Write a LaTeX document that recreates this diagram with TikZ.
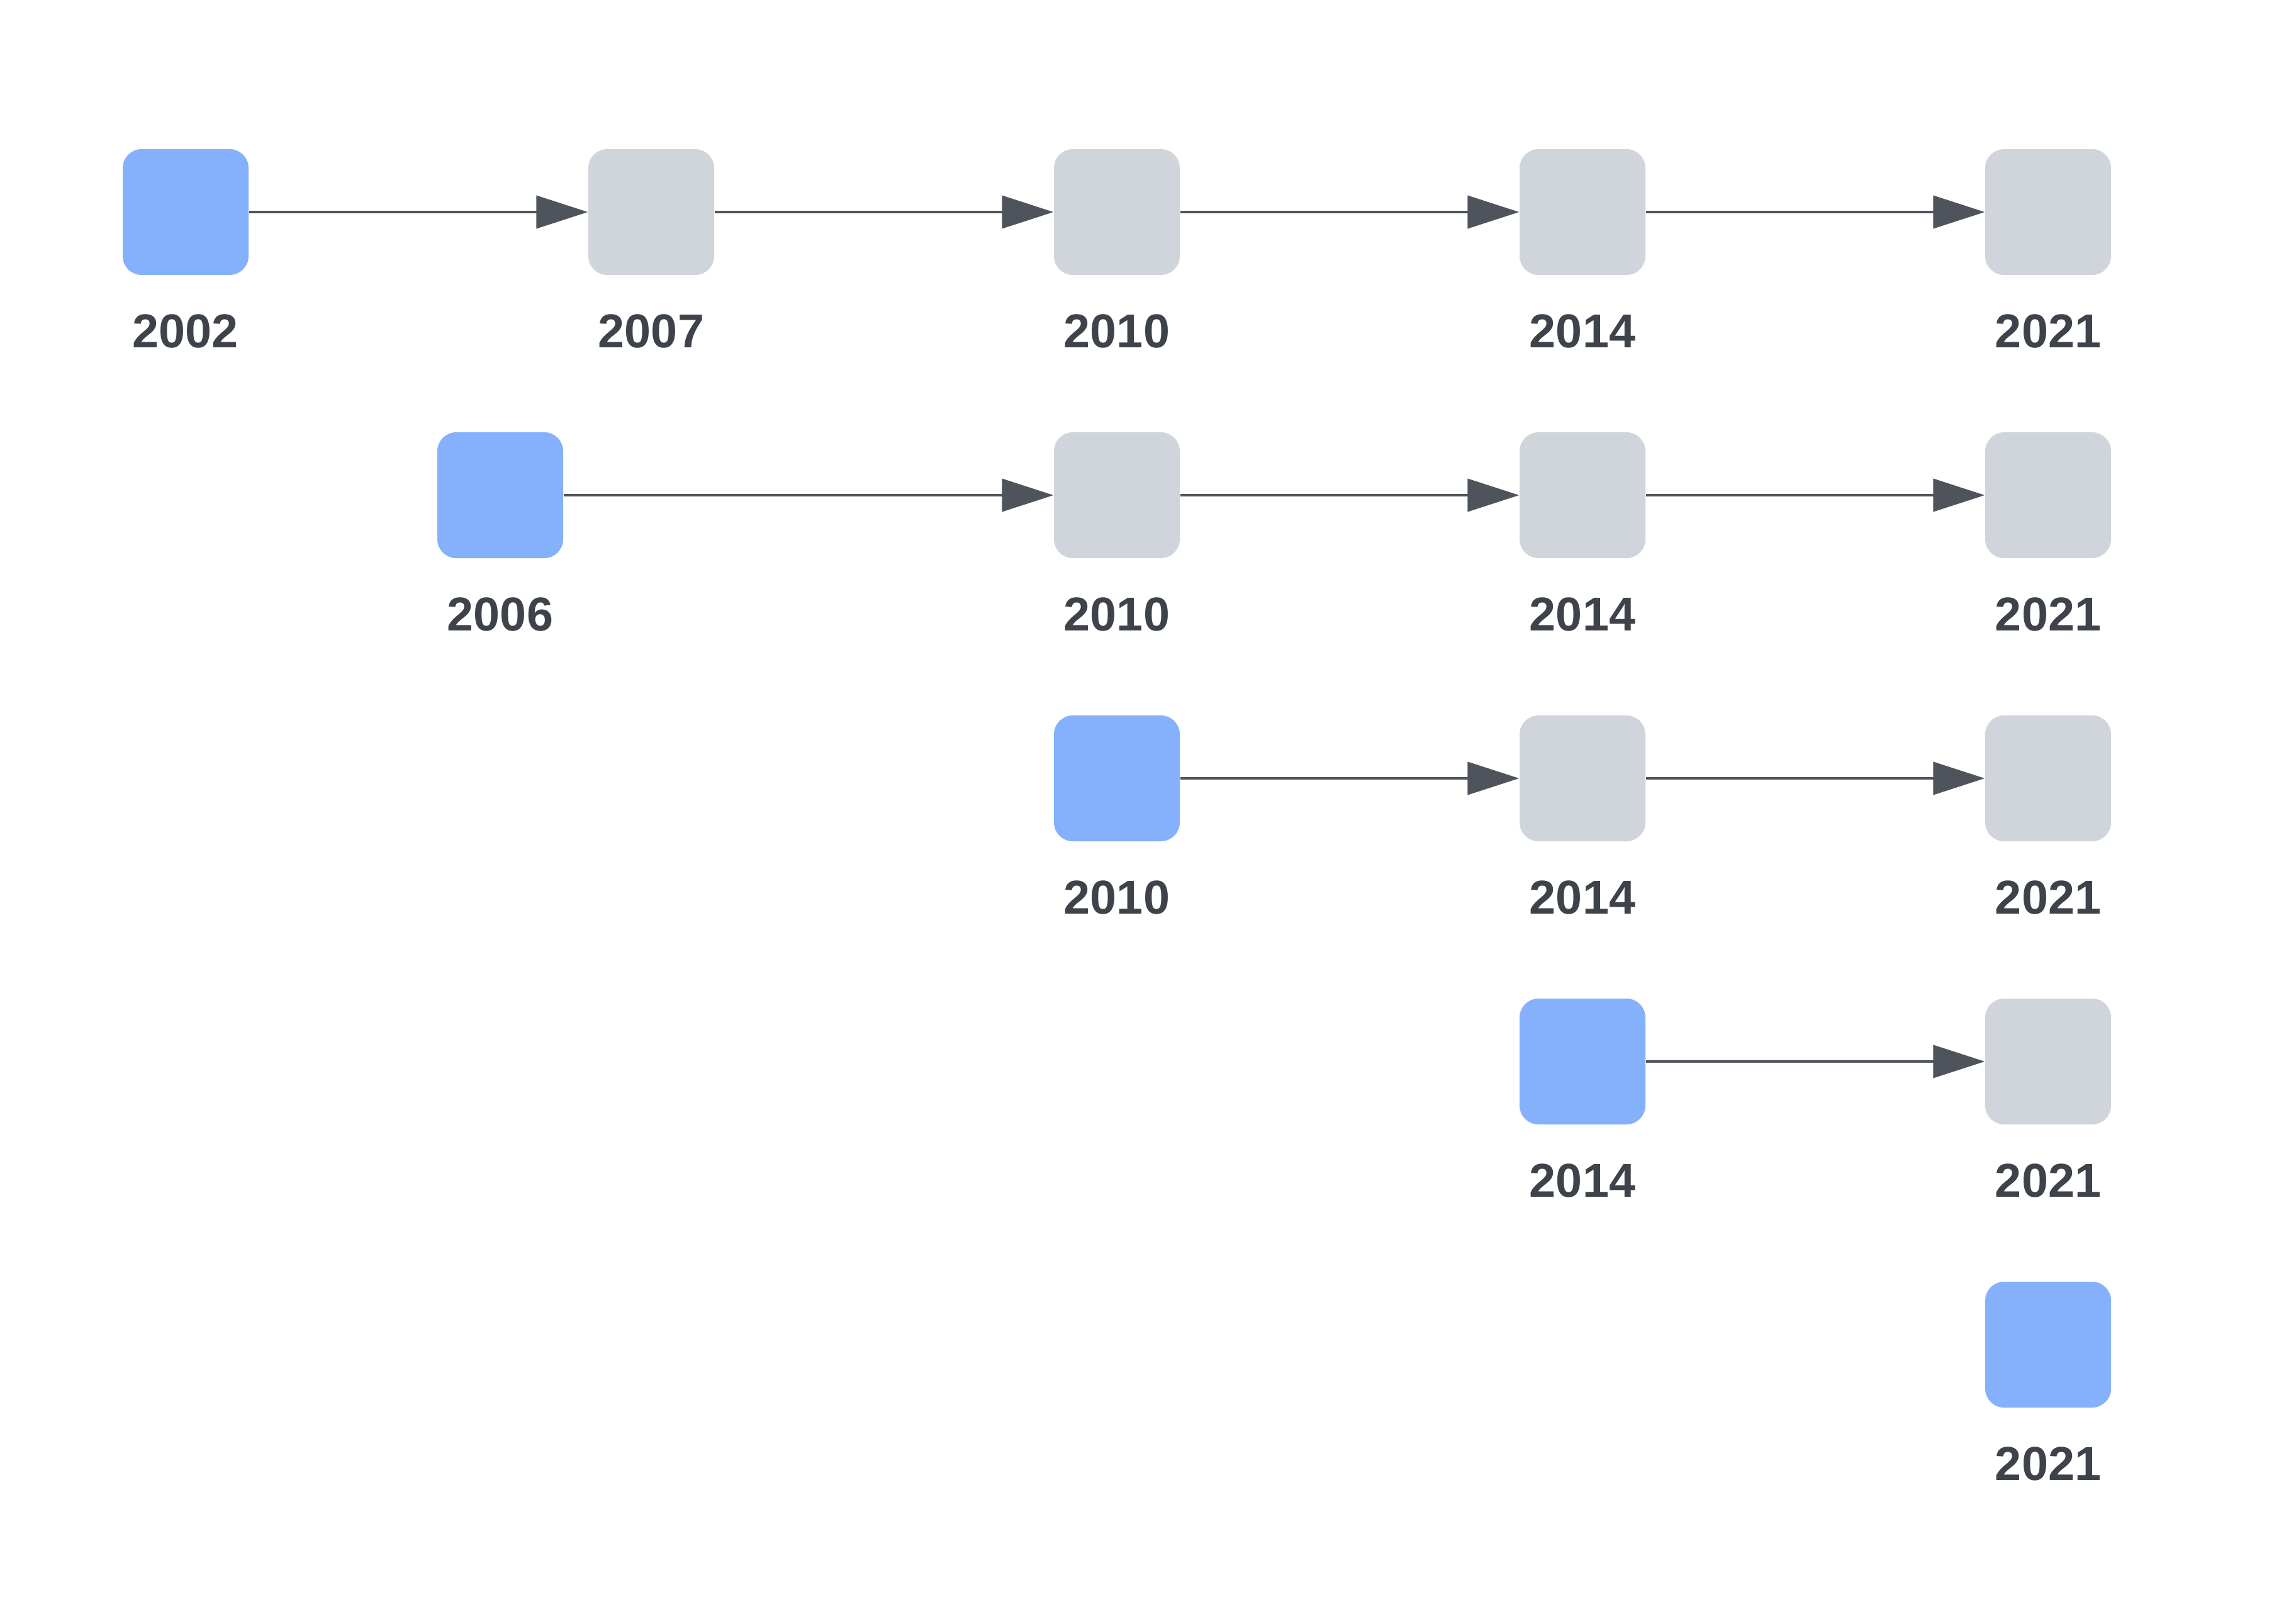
\documentclass[tikz,border=0pt]{standalone}
\usepackage{xcolor}
\usepackage{fontspec}
\setmainfont{Liberation Sans}
\usepackage{tikz}
\usetikzlibrary{arrows.meta}

\definecolor{startblue}{RGB}{133,177,252}
\definecolor{stepgray}{RGB}{208,213,220}
\definecolor{linkgray}{RGB}{79,84,92}
\definecolor{yeartext}{RGB}{62,66,75}

\begin{document}
\begin{tikzpicture}[
        yearbox/.style={minimum size=2cm, inner sep=0pt, rounded corners=0.3cm},
        first/.style={yearbox, fill=startblue},
        later/.style={yearbox, fill=stepgray},
        year/.style={anchor=base, text=yeartext, font=\fontsize{21.5}{26}\selectfont\bfseries},
        link/.style={draw=linkgray, line width=1.15pt, -{Triangle[length=0.82cm, width=0.52cm]}}
    ]
        \useasboundingbox (0,0) rectangle (36.14,-25.80);

         % row 1: 2002
        \node[first] (a1) at (2.95,-3.37) {};
        \node[later] (a2) at (10.35,-3.37) {};
        \node[later] (a3) at (17.75,-3.37) {};
        \node[later] (a4) at (25.15,-3.37) {};
        \node[later] (a5) at (32.55,-3.37) {};
        \node[year] (ya1) at (2.95,-5.52) {2002};
        \node[year] (ya2) at (10.35,-5.52) {2007};
        \node[year] (ya3) at (17.75,-5.52) {2010};
        \node[year] (ya4) at (25.15,-5.52) {2014};
        \node[year] (ya5) at (32.55,-5.52) {2021};
        \draw[link] (a1) -- (a2);
        \draw[link] (a2) -- (a3);
        \draw[link] (a3) -- (a4);
        \draw[link] (a4) -- (a5);

         % row 2: 2006
        \node[first] (b1) at (7.95,-7.87) {};
        \node[later] (b3) at (17.75,-7.87) {};
        \node[later] (b4) at (25.15,-7.87) {};
        \node[later] (b5) at (32.55,-7.87) {};
        \node[year] (yb1) at (7.95,-10.02) {2006};
        \node[year] (yb3) at (17.75,-10.02) {2010};
        \node[year] (yb4) at (25.15,-10.02) {2014};
        \node[year] (yb5) at (32.55,-10.02) {2021};
        \draw[link] (b1) -- (b3);
        \draw[link] (b3) -- (b4);
        \draw[link] (b4) -- (b5);

         % row 3: 2010
        \node[first] (c3) at (17.75,-12.37) {};
        \node[later] (c4) at (25.15,-12.37) {};
        \node[later] (c5) at (32.55,-12.37) {};
        \node[year] (yc3) at (17.75,-14.52) {2010};
        \node[year] (yc4) at (25.15,-14.52) {2014};
        \node[year] (yc5) at (32.55,-14.52) {2021};
        \draw[link] (c3) -- (c4);
        \draw[link] (c4) -- (c5);

         % row 4: 2014
        \node[first] (d4) at (25.15,-16.87) {};
        \node[later] (d5) at (32.55,-16.87) {};
        \node[year] (yd4) at (25.15,-19.02) {2014};
        \node[year] (yd5) at (32.55,-19.02) {2021};
        \draw[link] (d4) -- (d5);

         % row 5: 2021
        \node[first] (e5) at (32.55,-21.37) {};
        \node[year] (ye5) at (32.55,-23.52) {2021};
      \end{tikzpicture}
\end{document}
